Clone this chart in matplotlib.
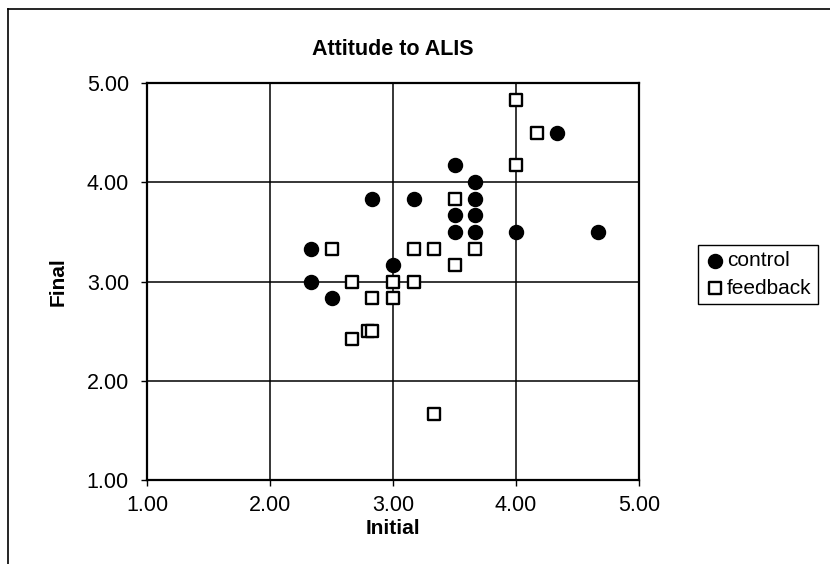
import matplotlib
matplotlib.use('Agg')
import matplotlib.pyplot as plt
from matplotlib.lines import Line2D

plt.rcParams['font.family'] = ['Liberation Sans', 'DejaVu Sans']

# control group (initial, final)
control_initial = [4.33, 3.50, 3.67, 2.83, 3.17, 3.67, 3.50, 3.67, 3.50, 3.67,
                   4.00, 4.67, 2.33, 3.00, 2.33, 2.50]
control_final = [4.50, 4.17, 4.00, 3.83, 3.83, 3.83, 3.67, 3.67, 3.50, 3.50,
                 3.50, 3.50, 3.33, 3.17, 3.00, 2.83]

# feedback group
feedback_initial = [4.00, 4.17, 4.00, 3.50, 2.50, 3.17, 3.33, 3.67, 3.50, 2.67,
                    3.00, 3.17, 2.83, 3.00, 2.80, 2.83, 2.67, 3.33]
feedback_final = [4.83, 4.50, 4.17, 3.83, 3.33, 3.33, 3.33, 3.33, 3.17, 3.00,
                  3.00, 3.00, 2.83, 2.83, 2.50, 2.50, 2.42, 1.67]

ticks = [1.0, 2.0, 3.0, 4.0, 5.0]
tick_labels = ['1.00', '2.00', '3.00', '4.00', '5.00']

W, H = 830, 564
fig = plt.figure(figsize=(W / 100, H / 100), dpi=100)
ax = fig.add_axes([147 / W, 1 - 480 / H, (639 - 147) / W, (480 - 83) / H])

ax.scatter(control_initial, control_final, marker='o', s=14 ** 2 * 0.52,
           color='black', zorder=3, label='control')
ax.scatter(feedback_initial, feedback_final, marker='s', s=11.5 ** 2 * 0.52,
           facecolor='white', edgecolor='black', linewidths=1.7, zorder=3,
           label='feedback')

ax.set_xlim(1, 5)
ax.set_ylim(1, 5)
ax.set_xticks(ticks)
ax.set_xticklabels(tick_labels)
ax.set_yticks(ticks)
ax.set_yticklabels(tick_labels)
ax.tick_params(direction='out', length=4, width=1, labelsize=15.5, color='black')
ax.tick_params(axis='y', pad=9)
ax.tick_params(axis='x', pad=7)
ax.grid(True, color='black', linewidth=1.1)
ax.set_axisbelow(True)
for s in ax.spines.values():
    s.set_linewidth(1.6)
    s.set_color('black')

ax.set_title('Attitude to ALIS', fontsize=15.5, fontweight='bold', pad=20)
ax.set_xlabel('Initial', fontsize=15, fontweight='bold', labelpad=2)
ax.set_ylabel('Final', fontsize=15, fontweight='bold', labelpad=14)

leg = fig.legend(loc='upper left', bbox_to_anchor=(698 / W, 1 - 245 / H),
                 fontsize=15, frameon=True, fancybox=False, framealpha=1,
                 edgecolor='black', handletextpad=0.1, borderpad=0.3,
                 labelspacing=0.4, handlelength=1.0, borderaxespad=0)
leg.get_frame().set_linewidth(1)

# outer chart border (left and top only are visible)
fig.add_artist(Line2D([8 / W, 8 / W], [0, 1 - 9 / H], color='black', linewidth=1.2))
fig.add_artist(Line2D([8 / W, 1], [1 - 9 / H, 1 - 9 / H], color='black', linewidth=1.2))

fig.savefig('out.png', dpi=100)
